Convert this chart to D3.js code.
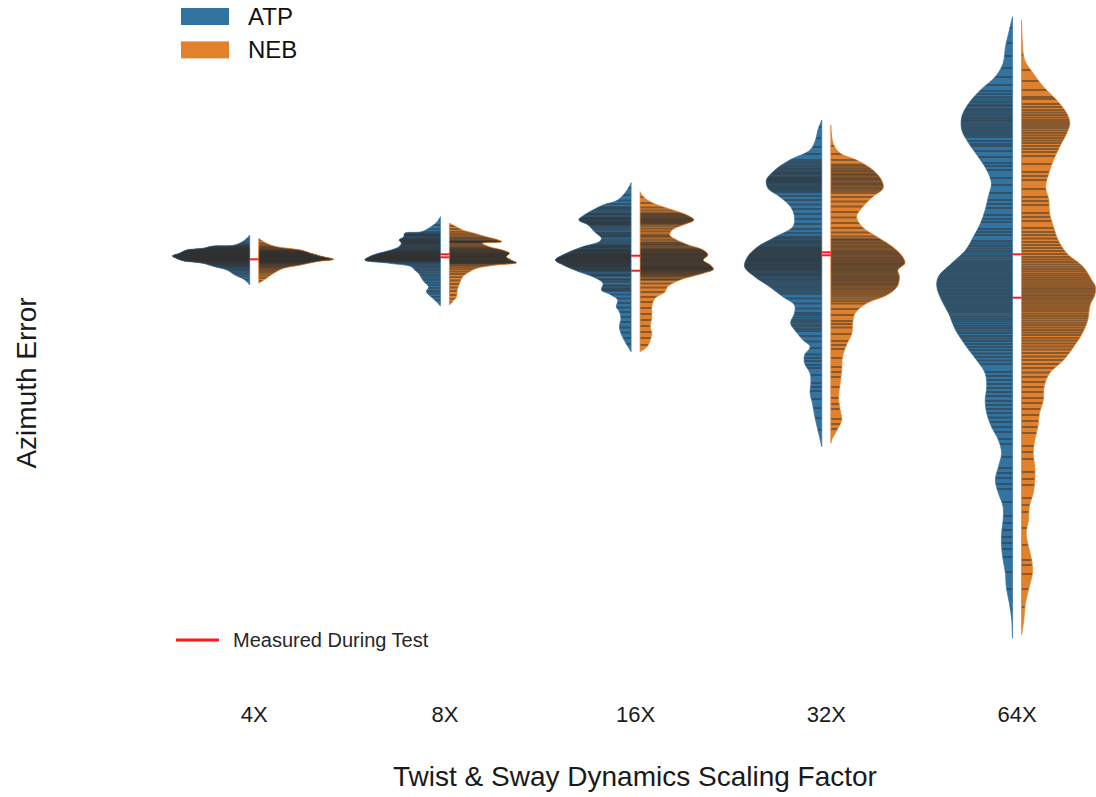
<!DOCTYPE html>
<html>
<head>
<meta charset="utf-8">
<script src="https://cdn.jsdelivr.net/npm/d3@7"></script>
<style>
  body { margin: 0; background: #fff; }
  svg { display: block; }
  text { font-family: "Liberation Sans", Arial, Helvetica, sans-serif; }
</style>
</head>
<body>
<svg id="chart" width="1096" height="797"></svg>
<script>
// ---- data -------------------------------------------------------------
const categories = ["4X", "8X", "16X", "32X", "64X"];
const seriesNames = ["ATP", "NEB"];
const seriesColors = ["#3274a1", "#e1812c"];

// Density outlines per half: [azimuth error, relative density %]
const atpDensity4X = [[2.4,0],[1.9,6],[1.4,19],[1.3,47],[1.07,60],[0.9,81],[0.57,90],[0.3,99],[0.07,94],[-0.17,86],[-0.43,60],[-0.77,45],[-1.1,29],[-1.6,19],[-2.1,6],[-2.6,0]];
const nebDensity4X = [[2.07,0],[1.57,10],[1.23,23],[0.9,54],[0.57,67],[0.23,83],[-0.03,96],[-0.27,74],[-0.6,54],[-0.93,32],[-1.43,19],[-1.93,10],[-2.43,0]];
const atpDensity8X = [[4.23,0],[3.73,4],[3.23,12],[2.73,24],[2.57,46],[2.23,47],[1.9,53],[1.57,50],[1.23,53],[0.9,63],[0.57,79],[0.23,91],[-0.1,97],[-0.43,65],[-0.77,37],[-1.1,33],[-1.43,28],[-1.93,24],[-2.27,21],[-2.77,15],[-3.27,18],[-3.77,12],[-4.27,5],[-4.7,0]];
const nebDensity8X = [[3.57,0],[3.23,9],[2.9,17],[2.57,32],[2.23,47],[1.97,60],[1.73,67],[1.57,42],[1.23,51],[0.9,68],[0.57,77],[0.23,73],[-0.1,79],[-0.37,86],[-0.6,60],[-0.93,35],[-1.27,26],[-1.77,17],[-2.43,13],[-3.1,10],[-3.77,9],[-4.27,4],[-4.6,0]];
const atpDensity16X = [[7.63,0],[6.9,5],[5.9,17],[5.4,36],[4.9,49],[4.4,60],[3.9,67],[3.4,55],[2.73,47],[2.07,38],[1.73,41],[1.23,62],[0.57,83],[-0.1,97],[-0.6,87],[-1.27,67],[-1.77,49],[-2.43,36],[-3.1,38],[-3.5,28],[-4.1,17],[-4.77,19],[-5.27,15],[-5.93,13],[-6.77,15],[-7.43,13],[-8.1,9],[-8.77,4],[-9.27,0]];
const nebDensity16X = [[6.73,0],[6.23,4],[5.57,17],[4.9,42],[4.4,60],[3.9,69],[3.4,55],[2.9,41],[2.4,38],[1.9,47],[1.4,62],[0.9,81],[0.4,87],[-0.1,81],[-0.6,90],[-1.03,94],[-1.43,81],[-2.1,51],[-2.77,35],[-3.27,32],[-3.93,19],[-4.77,15],[-5.77,15],[-6.77,13],[-7.43,15],[-8.1,13],[-8.77,9],[-9.27,0]];
const atpDensity32X = [[13.9,0],[12.9,5],[11.9,8],[10.9,15],[9.9,41],[8.9,60],[7.9,71],[7.07,69],[6.23,54],[5.23,40],[4.23,35],[3.23,37],[2.23,59],[1.23,82],[0.23,95],[-0.77,99],[-1.77,86],[-2.77,67],[-3.77,50],[-4.6,35],[-5.43,35],[-6.43,40],[-7.27,33],[-8.1,24],[-8.77,15],[-9.6,22],[-10.43,22],[-11.43,15],[-12.43,14],[-13.43,15],[-14.43,12],[-15.77,9],[-17.1,5],[-18.77,0]];
const nebDensity32X = [[13.4,0],[11.57,3],[10.57,12],[9.9,33],[8.9,54],[7.9,65],[7.07,67],[6.23,54],[5.23,41],[4.23,33],[3.23,40],[2.23,59],[1.23,79],[0.23,92],[-0.43,95],[-1.1,86],[-1.77,88],[-2.77,85],[-3.6,72],[-4.43,46],[-5.43,31],[-6.43,28],[-7.43,27],[-8.43,21],[-9.77,15],[-11.1,14],[-12.43,12],[-13.77,10],[-15.1,12],[-16.1,14],[-17.1,8],[-18.1,1],[-18.43,0]];
const atpDensity64X = [[24.23,0],[22.57,5],[21.23,9],[19.57,12],[18.23,22],[16.9,41],[15.57,56],[14.23,65],[12.9,65],[11.57,56],[10.23,44],[8.9,33],[7.57,27],[6.23,31],[4.9,35],[3.57,41],[2.23,50],[0.9,60],[-0.43,78],[-1.77,95],[-2.77,97],[-4.1,91],[-5.43,82],[-7.1,73],[-8.77,59],[-10.1,46],[-11.43,35],[-12.77,33],[-14.1,35],[-15.43,33],[-16.77,27],[-18.1,18],[-19.43,14],[-20.77,18],[-22.1,22],[-23.43,18],[-24.77,12],[-26.1,12],[-27.43,14],[-28.77,14],[-30.1,12],[-31.43,9],[-32.77,8],[-34.43,4],[-36.1,1],[-37.93,0]];
const nebDensity64X = [[23.9,0],[21.9,1],[19.9,4],[18.57,15],[17.23,28],[15.9,45],[14.57,58],[13.57,62],[12.57,58],[11.23,49],[9.9,41],[8.57,35],[7.23,31],[5.9,35],[4.57,36],[3.23,41],[1.9,47],[0.57,58],[-0.77,79],[-2.1,90],[-2.8,95],[-3.6,94],[-4.6,88],[-6.1,85],[-7.43,78],[-8.77,67],[-10.1,54],[-11.43,36],[-12.77,29],[-14.1,28],[-15.43,23],[-16.77,21],[-18.1,17],[-19.43,15],[-20.77,17],[-22.1,17],[-23.43,15],[-24.77,10],[-26.1,9],[-27.43,6],[-28.77,9],[-30.1,13],[-31.43,14],[-32.77,10],[-34.43,5],[-36.1,3],[-37.6,0]];

// Individual observations (azimuth error) drawn as sticks
const atpSamples4X = [2.32,1.97,1.74,1.56,1.43,1.36,1.29,1.24,1.18,1.15,1.09,1.04,1.01,0.96,0.92,0.89,0.84,0.81,0.77,0.73,0.7,0.66,0.62,0.6,0.55,0.52,0.49,0.45,0.42,0.39,0.36,0.33,0.31,0.27,0.24,0.22,0.18,0.15,0.13,0.09,0.06,0.03,0.01,-0.03,-0.06,-0.09,-0.12,-0.15,-0.19,-0.23,-0.27,-0.31,-0.36,-0.41,-0.46,-0.52,-0.58,-0.66,-0.73,-0.82,-0.93,-1.04,-1.17,-1.33,-1.52,-1.74,-2.05,0.68,0.46,0.25,0.04,-0.14,1.06,0.86];
const nebSamples4X = [1.88,1.62,1.45,1.31,1.2,1.12,1.03,0.97,0.92,0.86,0.81,0.77,0.72,0.68,0.65,0.6,0.57,0.53,0.49,0.46,0.43,0.39,0.36,0.33,0.29,0.26,0.23,0.2,0.17,0.14,0.12,0.08,0.05,0.03,0.0,-0.02,-0.05,-0.08,-0.11,-0.14,-0.17,-0.21,-0.25,-0.28,-0.32,-0.37,-0.41,-0.46,-0.51,-0.57,-0.63,-0.7,-0.78,-0.86,-0.95,-1.06,-1.18,-1.31,-1.47,-1.66,-1.9,-2.2,0.55,0.31,0.1,-0.07,-0.23,0.74];
const atpSamples8X = [3.95,3.4,2.98,2.72,2.58,2.46,2.37,2.25,2.14,2.03,1.95,1.84,1.76,1.66,1.58,1.47,1.38,1.29,1.21,1.12,1.05,0.97,0.9,0.84,0.77,0.71,0.64,0.58,0.53,0.47,0.42,0.36,0.31,0.27,0.22,0.17,0.13,0.08,0.04,0.0,-0.04,-0.09,-0.14,-0.2,-0.27,-0.36,-0.48,-0.63,-0.8,-0.98,-1.17,-1.36,-1.6,-1.85,-2.08,-2.36,-2.62,-2.9,-3.2,-3.45,-3.78,-4.12,0.65,0.55,0.44,0.34,0.25,0.15,0.06,-0.02,-0.12,-0.24,1.9,1.7,1.52,2.4];
const nebSamples8X = [3.3,3.0,2.74,2.55,2.38,2.22,2.1,1.98,1.86,1.78,1.73,1.69,1.62,1.48,1.35,1.24,1.13,1.02,0.93,0.85,0.78,0.71,0.65,0.58,0.53,0.47,0.41,0.35,0.29,0.23,0.18,0.12,0.06,0.01,-0.05,-0.11,-0.17,-0.23,-0.29,-0.35,-0.4,-0.47,-0.56,-0.68,-0.84,-1.02,-1.25,-1.5,-1.82,-2.15,-2.5,-2.85,-3.2,-3.6,-3.98,-4.35,1.75,1.72,0.88,0.62,0.5,0.38,0.26,0.15,0.03,-0.08,-0.2,-0.32,-0.44,1.08];
const atpSamples16X = [7.1,6.4,5.85,5.5,5.2,4.95,4.75,4.55,4.38,4.2,4.05,3.92,3.8,3.66,3.52,3.38,3.22,3.05,2.86,2.64,2.42,2.18,1.95,1.76,1.58,1.4,1.25,1.1,0.97,0.85,0.73,0.62,0.52,0.42,0.33,0.24,0.15,0.06,-0.03,-0.12,-0.21,-0.31,-0.41,-0.52,-0.64,-0.77,-0.92,-1.08,-1.26,-1.46,-1.7,-1.98,-2.3,-2.62,-2.95,-3.2,-3.55,-3.95,-4.4,-4.85,-5.3,-5.8,-6.3,-6.85,-7.35,-7.9,-8.5,4.48,4.12,3.98,3.72,3.58,3.44,0.9,0.78,0.66,0.47,0.37,0.28,0.19,0.1,0.01,-0.07,-0.16,-0.26,-0.36,-0.47,-0.58,-0.7,-0.85,-1.0,-1.17,1.33,1.18,2.55,2.3,5.05,-1.58,-2.1,-2.75,-3.05];
const nebSamples16X = [6.2,5.6,5.15,4.85,4.6,4.4,4.22,4.06,3.92,3.78,3.62,3.45,3.25,3.02,2.75,2.45,2.15,1.9,1.68,1.5,1.34,1.2,1.06,0.93,0.8,0.68,0.56,0.45,0.34,0.23,0.12,0.02,-0.09,-0.2,-0.31,-0.42,-0.53,-0.64,-0.75,-0.85,-0.95,-1.05,-1.16,-1.28,-1.42,-1.6,-1.82,-2.1,-2.45,-2.85,-3.3,-3.8,-4.3,-4.9,-5.5,-6.1,-6.7,-7.3,-7.9,-8.6,4.5,4.3,4.12,3.98,3.85,3.7,3.55,0.98,0.86,0.74,0.62,0.5,0.4,0.29,0.17,0.07,-0.04,-0.15,-0.26,-0.37,-0.48,-0.59,-0.7,-0.8,-0.9,-1.0,-1.1,-1.22,-1.35,-1.5,1.62,1.42,2.3,-1.7,-2.0];
const atpSamples32X = [13.2,12.1,11.2,10.5,9.9,9.5,9.15,8.85,8.6,8.35,8.1,7.9,7.7,7.45,7.2,6.95,6.65,6.3,5.9,5.45,5.0,4.5,4.0,3.5,3.0,2.6,2.25,1.95,1.7,1.45,1.2,1.0,0.8,0.6,0.42,0.25,0.08,-0.1,-0.27,-0.45,-0.62,-0.8,-0.98,-1.17,-1.38,-1.6,-1.85,-2.12,-2.42,-2.75,-3.1,-3.5,-3.95,-4.45,-4.95,-5.4,-5.85,-6.3,-6.75,-7.2,-7.7,-8.25,-8.9,-9.55,-10.2,-10.9,-11.6,-12.4,-13.2,-14.0,-14.9,-15.9,-17.1,9.7,9.3,9.0,8.72,8.48,8.22,8.0,7.8,7.58,7.33,7.05,6.8,2.1,1.82,1.58,1.33,1.1,0.9,0.7,0.5,0.33,0.16,0.0,-0.18,-0.36,-0.53,-0.71,-0.89,-1.07,-1.27,-1.48,-1.72,-1.98,-2.27,-2.58,-2.92,-3.3,-5.6,-6.1,-6.55,-7.0,-9.9,-10.6,-12.8];
const nebSamples32X = [12.4,11.3,10.5,9.9,9.45,9.1,8.8,8.5,8.25,8.0,7.75,7.5,7.25,6.95,6.6,6.2,5.75,5.25,4.7,4.15,3.6,3.1,2.65,2.25,1.9,1.6,1.32,1.06,0.82,0.6,0.38,0.17,-0.03,-0.23,-0.43,-0.62,-0.82,-1.02,-1.22,-1.42,-1.63,-1.84,-2.05,-2.27,-2.5,-2.74,-3.0,-3.28,-3.6,-3.98,-4.45,-5.0,-5.6,-6.2,-6.85,-7.5,-8.2,-9.0,-9.9,-10.8,-11.8,-12.8,-13.9,-15.0,-16.0,-17.0,9.3,8.95,8.65,8.38,8.12,7.88,7.62,7.38,7.1,6.8,2.0,1.75,1.45,1.19,0.94,0.71,0.49,0.27,0.07,-0.13,-0.33,-0.52,-0.72,-0.92,-1.12,-1.32,-1.53,-1.74,-1.95,-2.16,-2.38,-2.62,-2.87,-3.14,-3.44,-3.78,-4.2,-6.5,-8.6,-11.3,-14.5,-16.5];
const atpSamples64X = [23.1,21.6,20.3,19.1,18.2,17.4,16.8,16.2,15.7,15.3,14.9,14.5,14.1,13.8,13.4,13.0,12.6,12.2,11.8,11.3,10.8,10.2,9.6,8.9,8.1,7.4,6.6,5.9,5.1,4.4,3.7,3.0,2.4,1.8,1.3,0.8,0.3,-0.2,-0.6,-1.0,-1.4,-1.8,-2.15,-2.5,-2.85,-3.2,-3.55,-3.9,-4.3,-4.7,-5.1,-5.55,-6.0,-6.45,-6.9,-7.4,-7.95,-8.5,-9.1,-9.8,-10.5,-11.3,-12.1,-12.9,-13.7,-14.6,-15.4,-16.3,-17.3,-18.5,-19.8,-20.9,-21.9,-23.0,-24.3,-25.7,-27.1,-28.4,-29.8,-31.3,-33.0,-35.0,16.5,15.95,15.45,15.05,14.7,14.3,13.95,13.6,13.2,12.8,12.4,11.5,9.3,5.5,4.0,2.7,1.55,1.05,0.55,0.05,-0.4,-0.8,-1.2,-1.6,-1.98,-2.33,-2.68,-3.03,-3.38,-3.73,-4.1,-4.5,-4.9,-5.3,-5.78,-6.22,-6.68,-7.15,-7.7,-8.2,-8.8,-9.45,-10.15,-11.7,-12.5,-13.3,-14.2,-15.0,-15.85,-16.8,-18.0,-21.4,-22.5,-26.4,-27.8,-29.0];
const nebSamples64X = [22.5,20.4,18.9,17.8,16.9,16.2,15.5,14.9,14.4,13.9,13.5,13.1,12.6,12.1,11.6,11.0,10.3,9.5,8.7,7.9,7.0,6.2,5.4,4.6,3.8,3.1,2.4,1.7,1.1,0.5,-0.05,-0.55,-1.0,-1.45,-1.85,-2.25,-2.65,-3.0,-3.35,-3.7,-4.05,-4.45,-4.85,-5.25,-5.7,-6.15,-6.6,-7.1,-7.6,-8.15,-8.75,-9.4,-10.1,-10.9,-11.8,-12.8,-13.9,-15.0,-16.2,-17.4,-18.7,-20.0,-21.3,-22.6,-23.9,-25.3,-26.9,-28.6,-30.1,-31.5,-33.0,-34.8,16.0,15.2,14.65,14.15,13.7,13.3,12.85,12.35,11.85,11.3,10.7,8.3,5.8,4.2,2.7,2.05,1.4,0.8,0.2,-0.3,-0.78,-1.22,-1.65,-2.05,-2.45,-2.83,-3.18,-3.53,-3.88,-4.25,-4.65,-5.05,-5.48,-5.92,-6.38,-6.85,-7.35,-7.88,-8.45,-9.05,-9.75,-10.5,-11.35,-12.3,-13.3,-14.4,-15.6,-16.8,-19.3,-22.0,-24.6,-30.6];

// Values measured during the test, per scaling factor
const measuredDuringTest = [[-0.03], [0.47, 0.17], [0.33, -1.17], [0.67, 0.37], [0.47, -3.87]];

const atpDensities = [atpDensity4X, atpDensity8X, atpDensity16X, atpDensity32X, atpDensity64X];
const nebDensities = [nebDensity4X, nebDensity8X, nebDensity16X, nebDensity32X, nebDensity64X];
const atpSamples = [atpSamples4X, atpSamples8X, atpSamples16X, atpSamples32X, atpSamples64X];
const nebSamples = [nebSamples4X, nebSamples8X, nebSamples16X, nebSamples32X, nebSamples64X];

// ---- layout -----------------------------------------------------------
const svg = d3.select("#chart");
const halfGap = 4.5;

const x = d3.scaleBand().domain(categories).range([158.85, 1112.35]).padding(0);
const y = d3.scaleLinear().domain([-40, 26]).range([659, -1]);
const widthScale = d3.scaleLinear().domain([0, 100]).range([0, 78]);
const center = c => x(c) + x.bandwidth() / 2;

const halves = [];
categories.forEach((c, i) => {
  halves.push({ cat: c, side: -1, color: seriesColors[0], density: atpDensities[i], samples: atpSamples[i] });
  halves.push({ cat: c, side: 1, color: seriesColors[1], density: nebDensities[i], samples: nebSamples[i] });
});

const defs = svg.append("defs");
const plot = svg.append("g").attr("class", "violins");

halves.forEach((h, k) => {
  const inner = center(h.cat) + h.side * halfGap;
  const area = d3.area()
    .curve(d3.curveCatmullRom.alpha(0.5))
    .y(d => y(d[0]))
    .x0(inner)
    .x1(d => inner + h.side * widthScale(d[1]));
  const d = area(h.density);
  const clipId = "clip-half-" + k;
  defs.append("clipPath").attr("id", clipId).append("path").attr("d", d);

  const g = plot.append("g");
  g.append("path").attr("d", d).attr("fill", h.color);

  // one stick per observation, spanning the half violin
  g.append("g").attr("clip-path", `url(#${clipId})`)
    .selectAll("line").data(h.samples).join("line")
    .attr("x1", inner)
    .attr("x2", inner + h.side * widthScale(100))
    .attr("y1", v => y(v))
    .attr("y2", v => y(v))
    .attr("stroke", "#303030")
    .attr("stroke-opacity", 0.5)
    .attr("stroke-width", 1.8);

  g.append("path").attr("d", d)
    .attr("fill", "none")
    .attr("stroke", h.color)
    .attr("stroke-opacity", 0.7)
    .attr("stroke-width", 1);
});

// measured values across the gap between halves
const measured = svg.append("g").attr("class", "measured");
categories.forEach((c, i) => {
  measured.selectAll(null).data(measuredDuringTest[i]).join("line")
    .attr("x1", center(c) - halfGap)
    .attr("x2", center(c) + halfGap)
    .attr("y1", v => y(v))
    .attr("y2", v => y(v))
    .attr("stroke", "#ff1a1a")
    .attr("stroke-width", 2);
});

// ---- axes -------------------------------------------------------------
const xAxis = svg.append("g")
  .attr("transform", "translate(0,700)")
  .call(d3.axisBottom(x).tickSize(0).tickPadding(6.5));
xAxis.select(".domain").remove();
xAxis.selectAll("text")
  .attr("font-size", 22)
  .attr("fill", "#1a1a1a")
  .style("font-family", '"Liberation Sans", Arial, sans-serif');

svg.append("text")
  .attr("x", 635).attr("y", 786)
  .attr("text-anchor", "middle")
  .attr("font-size", 28)
  .attr("fill", "#1a1a1a")
  .text("Twist & Sway Dynamics Scaling Factor");

svg.append("text")
  .attr("transform", "translate(36,383) rotate(-90)")
  .attr("text-anchor", "middle")
  .attr("font-size", 28)
  .attr("fill", "#1a1a1a")
  .text("Azimuth Error");

// ---- legends ----------------------------------------------------------
const legend = svg.append("g").attr("class", "legend");
seriesNames.forEach((name, i) => {
  const top = 8 + i * 33.4;
  legend.append("rect")
    .attr("x", 181).attr("y", top)
    .attr("width", 48).attr("height", 17)
    .attr("fill", seriesColors[i]);
  legend.append("text")
    .attr("x", 248).attr("y", top + 17)
    .attr("font-size", 24)
    .attr("fill", "#111")
    .text(name);
});

const measuredLegend = svg.append("g");
measuredLegend.append("line")
  .attr("x1", 176).attr("x2", 219)
  .attr("y1", 640).attr("y2", 640)
  .attr("stroke", "#ff1a1a").attr("stroke-width", 3);
measuredLegend.append("text")
  .attr("x", 233).attr("y", 647)
  .attr("font-size", 20)
  .attr("fill", "#262626")
  .text("Measured During Test");
</script>
</body>
</html>
